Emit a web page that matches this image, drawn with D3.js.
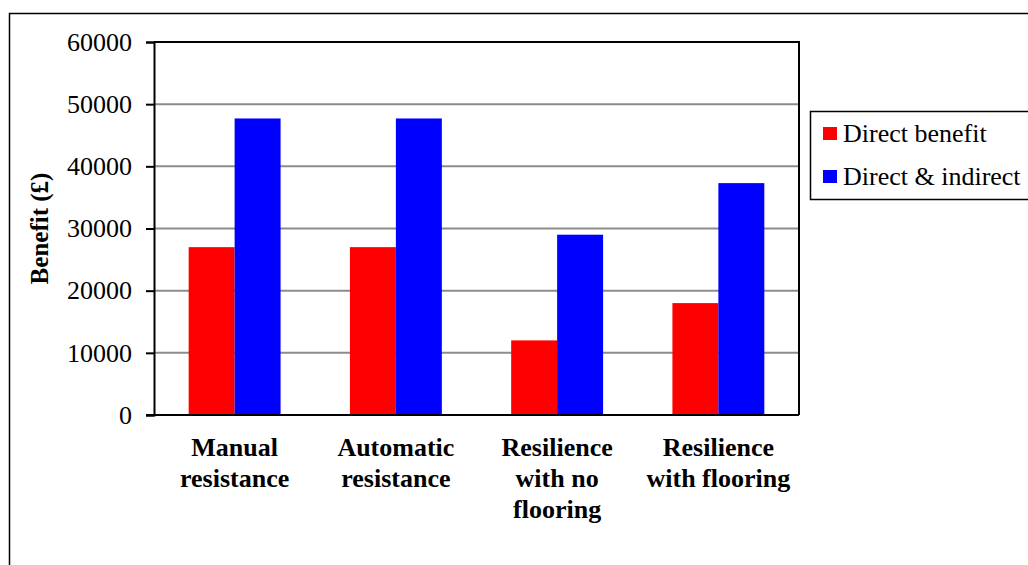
<!DOCTYPE html>
<html>
<head>
<meta charset="utf-8">
<script src="https://cdn.jsdelivr.net/npm/d3@7"></script>
<style>
  html, body { margin: 0; padding: 0; background: #fff; }
  svg { display: block; font-family: "Liberation Serif", "Times New Roman", serif; }
</style>
</head>
<body>
<svg id="chart" width="1028" height="565"></svg>
<script>
// Benefit of each flood protection option
const categories = [
  ["Manual", "resistance"],
  ["Automatic", "resistance"],
  ["Resilience", "with no", "flooring"],
  ["Resilience", "with flooring"]
];
const seriesNames = ["Direct benefit", "Direct & indirect"];
const directBenefit = [27000, 27000, 12000, 18000];
const directIndirect = [47700, 47700, 29000, 37300];
const yTicks = [0, 10000, 20000, 30000, 40000, 50000, 60000];
const colors = ["#ff0000", "#0000ff"];

const FONT = "Liberation Serif, Times New Roman, serif";
const svg = d3.select("#chart");

// outer chart frame (runs off the right and bottom edges)
svg.append("rect")
  .attr("x", 9.5).attr("y", 13.5)
  .attr("width", 1100).attr("height", 600)
  .attr("fill", "#fff").attr("stroke", "#000").attr("stroke-width", 1.5);

const plot = { left: 154, top: 42, right: 799, bottom: 415 };

const x0 = d3.scaleBand()
  .domain(d3.range(categories.length))
  .range([plot.left, plot.right])
  .paddingInner(0.43).paddingOuter(0.215);
const x1 = d3.scaleBand()
  .domain(d3.range(seriesNames.length))
  .range([0, x0.bandwidth()]);
const y = d3.scaleLinear().domain([0, 60000]).range([plot.bottom, plot.top]);

// gridlines
svg.append("g").selectAll("line")
  .data(yTicks.filter(t => t > 0 && t < 60000))
  .join("line")
  .attr("x1", plot.left).attr("x2", plot.right)
  .attr("y1", d => y(d)).attr("y2", d => y(d))
  .attr("stroke", "#8c8c8c").attr("stroke-width", 2);

// bars
const values = [directBenefit, directIndirect];
const groups = svg.append("g").selectAll("g")
  .data(categories.map((c, i) => i))
  .join("g")
  .attr("transform", i => `translate(${x0(i)},0)`);
groups.selectAll("rect")
  .data(i => values.map((s, k) => ({ k, v: s[i] })))
  .join("rect")
  .attr("x", d => x1(d.k))
  .attr("width", x1.bandwidth())
  .attr("y", d => y(d.v))
  .attr("height", d => y(0) - y(d.v))
  .attr("fill", d => colors[d.k]);

// plot frame: top and right edges
svg.append("path")
  .attr("d", `M${plot.left},${plot.top}H${plot.right}V${plot.bottom}`)
  .attr("fill", "none").attr("stroke", "#000").attr("stroke-width", 2);

// y axis
const yAxis = svg.append("g")
  .attr("transform", `translate(${plot.left},0)`)
  .call(d3.axisLeft(y).tickValues(yTicks).tickSize(8).tickPadding(14).tickFormat(d3.format("d")));
yAxis.attr("font-family", FONT).attr("font-size", 26);
yAxis.select(".domain").attr("stroke-width", 2);
yAxis.selectAll(".tick line").attr("stroke-width", 2);
yAxis.selectAll("text").attr("fill", "#000");

// x baseline
svg.append("line")
  .attr("x1", plot.left - 8).attr("x2", plot.right)
  .attr("y1", plot.bottom).attr("y2", plot.bottom)
  .attr("stroke", "#000").attr("stroke-width", 2);

// category labels
const lbl = svg.append("g").selectAll("text")
  .data(categories)
  .join("text")
  .attr("text-anchor", "middle")
  .attr("font-size", 26).attr("font-weight", "bold").attr("fill", "#000");
lbl.each(function (lines, i) {
  d3.select(this).selectAll("tspan")
    .data(lines)
    .join("tspan")
    .attr("x", x0(i) + x0.bandwidth() / 2)
    .attr("y", (d, j) => 456 + j * 31)
    .text(d => d);
});

// y axis title
svg.append("text")
  .attr("transform", `translate(48,${(plot.top + plot.bottom) / 2}) rotate(-90)`)
  .attr("text-anchor", "middle")
  .attr("font-size", 25).attr("font-weight", "bold")
  .text("Benefit (£)");

// legend
const legend = svg.append("g");
legend.append("rect")
  .attr("x", 810.5).attr("y", 111.5).attr("width", 260).attr("height", 88)
  .attr("fill", "#fff").attr("stroke", "#000").attr("stroke-width", 1.5);
const items = legend.selectAll("g.item")
  .data(seriesNames)
  .join("g").attr("class", "item")
  .attr("transform", (d, i) => `translate(823,${127 + i * 43})`);
items.append("rect")
  .attr("width", 14).attr("height", 13)
  .attr("fill", (d, i) => colors[i]);
items.append("text")
  .attr("x", 20).attr("y", 15)
  .attr("font-size", 26).attr("fill", "#000")
  .text(d => d);
</script>
</body>
</html>
